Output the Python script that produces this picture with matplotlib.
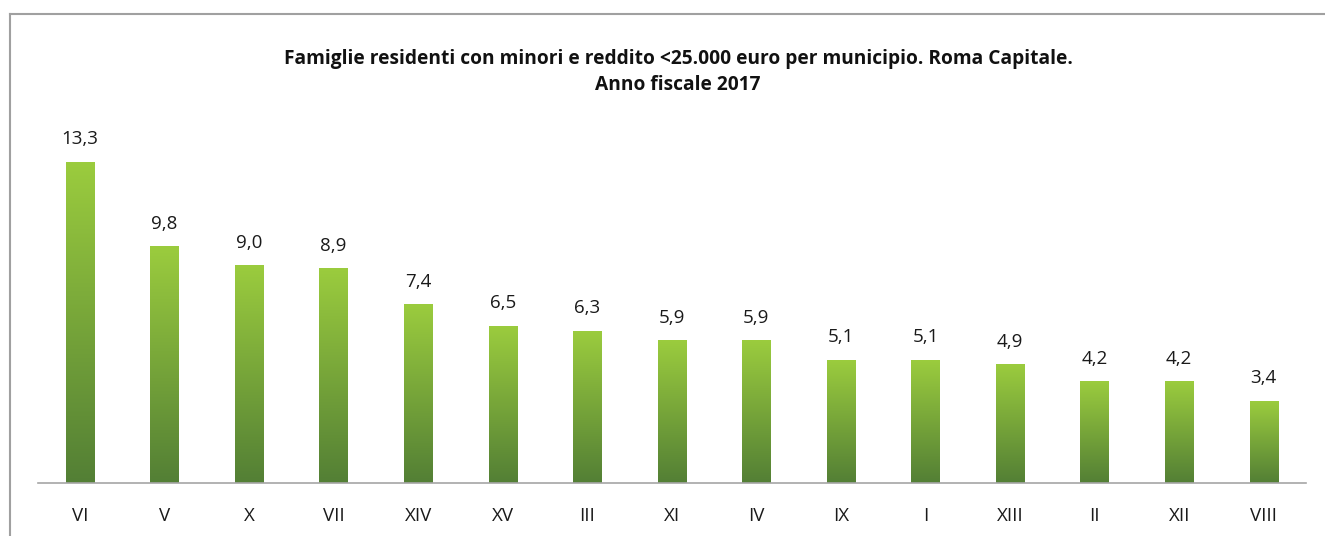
import numpy as np
import matplotlib
matplotlib.use("Agg")
import matplotlib.pyplot as plt
from matplotlib.colors import LinearSegmentedColormap
from matplotlib.lines import Line2D

# Municipi di Roma Capitale, ordered by share
municipi = ["VI", "V", "X", "VII", "XIV", "XV", "III", "XI", "IV", "IX",
            "I", "XIII", "II", "XII", "VIII"]
valori = [13.3, 9.8, 9.0, 8.9, 7.4, 6.5, 6.3, 5.9, 5.9, 5.1,
          5.1, 4.9, 4.2, 4.2, 3.4]
titolo = ("Famiglie residenti con minori e reddito <25.000 euro per municipio. Roma Capitale.\n"
          "Anno fiscale 2017")

W, H = 1325, 536
DPI = 100
fig = plt.figure(figsize=(W / DPI, H / DPI), dpi=DPI)
fig.patch.set_facecolor("white")

# plot area in pixels
x0, x1 = 37.7, 1306.0
base_y = 483.0
px_per_unit = (483.0 - 162.3) / 13.3
top_y = 100.0
ax = fig.add_axes([x0 / W, (H - base_y) / H, (x1 - x0) / W, (base_y - top_y) / H])
ax.set_xlim(-0.5, len(municipi) - 0.5)
ax.set_ylim(0, (base_y - top_y) / px_per_unit)

grad = LinearSegmentedColormap.from_list("verde", ["#537F35", "#9BCC3E"])
g = np.linspace(0, 1, 256).reshape(-1, 1)
bw = 0.335
for i, v in enumerate(valori):
    ax.imshow(g, cmap=grad, origin="lower", aspect="auto",
              extent=[i - bw / 2, i + bw / 2, 0, v], interpolation="bilinear", zorder=2)
    ax.annotate(f"{v:.1f}".replace(".", ","), (i, v), xytext=(0, 10),
                textcoords="offset points", ha="center", va="bottom",
                fontsize=13.5, family="Open Sans", color="#1a1a1a")

for s in ["top", "right", "left"]:
    ax.spines[s].set_visible(False)
ax.spines["bottom"].set_color("#a6a6a6")
ax.spines["bottom"].set_linewidth(1.2)
ax.set_yticks([])
ax.set_xticks(range(len(municipi)))
ax.set_xticklabels(municipi, family="Open Sans", fontsize=13.5, color="#1a1a1a")
ax.tick_params(axis="x", length=0, pad=17)

fig.text(678 / W, 1 - 72 / H, titolo, ha="center", va="center", fontsize=13.8,
         fontweight="bold", family="Open Sans", color="#111111", linespacing=1.4)

# chart frame
fig.add_artist(Line2D([10 / W, 1], [1 - 13.5 / H] * 2, transform=fig.transFigure,
                      color="#a0a0a0", lw=1.5))
fig.add_artist(Line2D([10 / W] * 2, [0, 1 - 13.5 / H], transform=fig.transFigure,
                      color="#a0a0a0", lw=1.5))

fig.savefig("out.png", dpi=DPI, facecolor="white")
